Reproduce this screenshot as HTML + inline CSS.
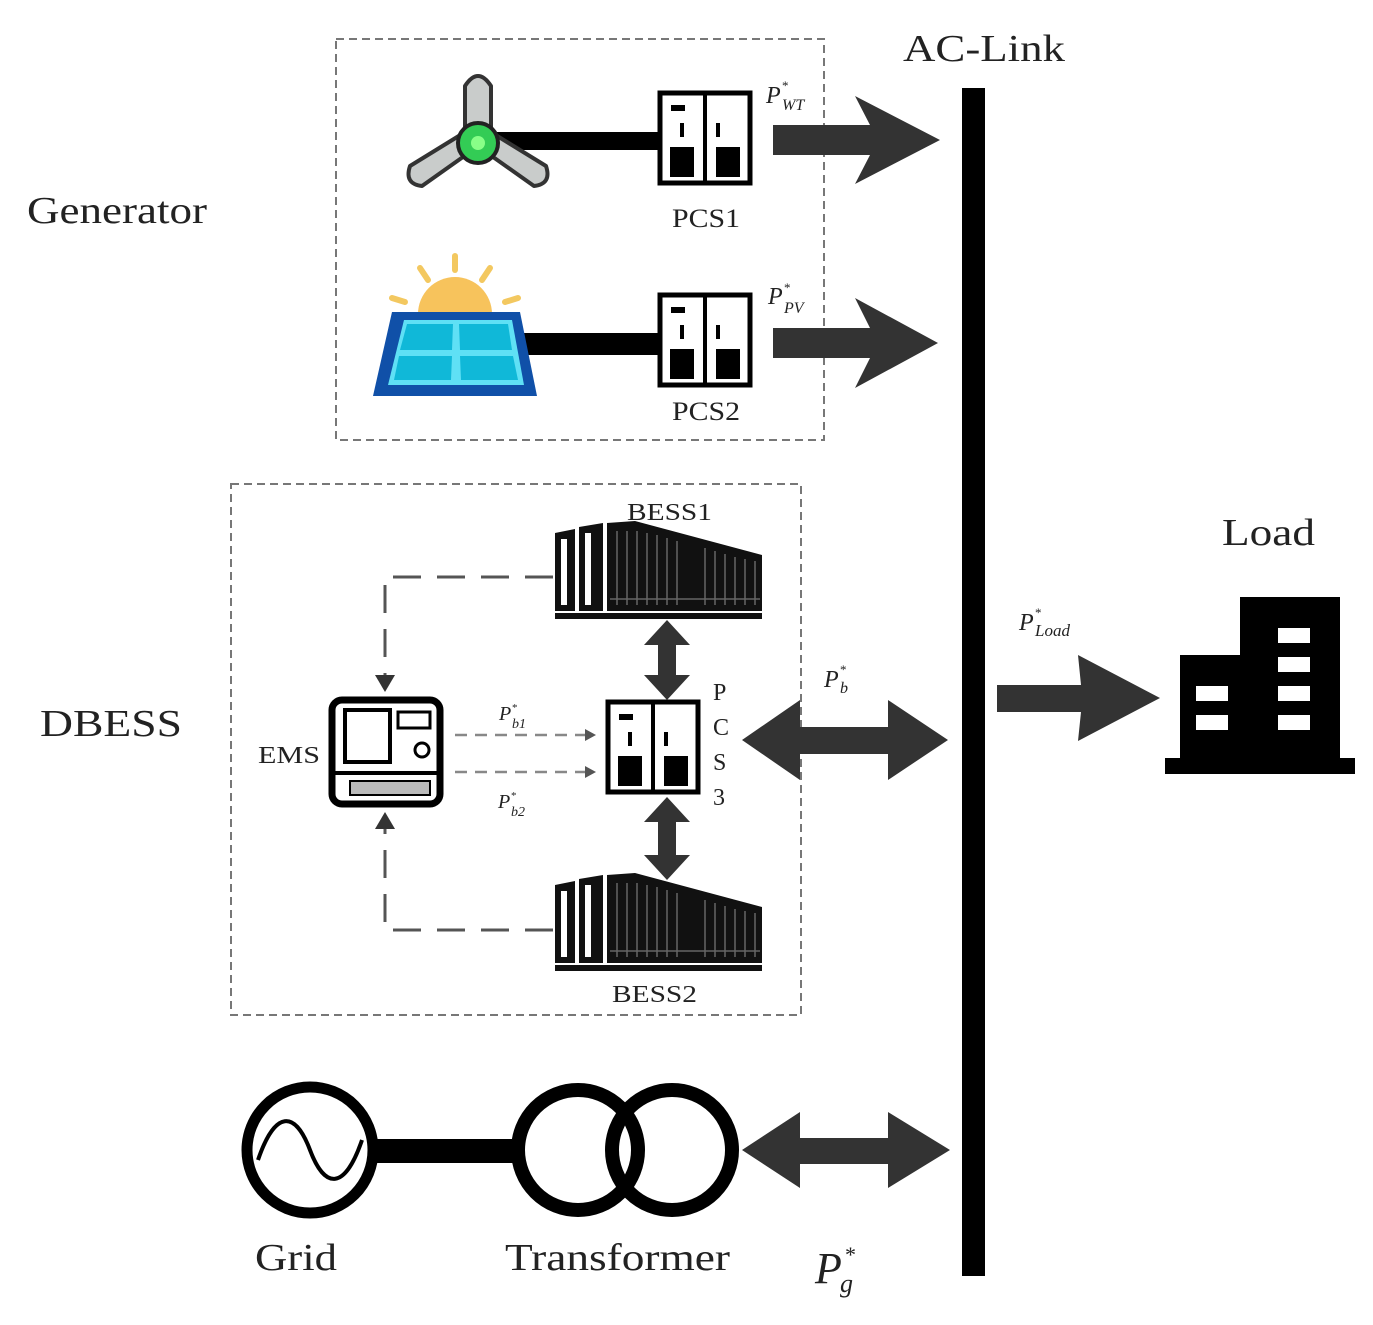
<!DOCTYPE html>
<html><head><meta charset="utf-8"><style>
html,body{margin:0;padding:0;background:#fff;}
svg{display:block;}
text{font-family:"Liberation Serif",serif;fill:#222;}
</style></head><body>
<svg width="1373" height="1325" viewBox="0 0 1373 1325" xmlns="http://www.w3.org/2000/svg">
<defs>
<g id="pcs">
  <rect x="2" y="2" width="90" height="90" fill="#fff" stroke="#000" stroke-width="5"/>
  <line x1="47" y1="2" x2="47" y2="92" stroke="#000" stroke-width="4"/>
  <rect x="13" y="14" width="14" height="6" fill="#000"/>
  <rect x="22" y="32" width="4" height="14" fill="#000"/>
  <rect x="58" y="32" width="4" height="14" fill="#000"/>
  <rect x="12" y="56" width="24" height="30" fill="#000"/>
  <rect x="58" y="56" width="24" height="30" fill="#000"/>
</g>
<g id="bess">
  <polygon points="0,12 20,8 20,90 0,90" fill="#111"/>
  <rect x="6" y="18" width="6" height="66" fill="#fff"/>
  <polygon points="24,6 48,2 48,90 24,90" fill="#111"/>
  <rect x="30" y="12" width="6" height="72" fill="#fff"/>
  <polygon points="52,2 80,0 207,34 207,90 52,90" fill="#111"/>
  <g stroke="#666" stroke-width="1.5">
    <line x1="62" y1="10" x2="62" y2="84"/><line x1="72" y1="10" x2="72" y2="84"/><line x1="82" y1="10" x2="82" y2="84"/>
    <line x1="92" y1="12" x2="92" y2="84"/><line x1="102" y1="14" x2="102" y2="84"/><line x1="112" y1="17" x2="112" y2="84"/>
    <line x1="122" y1="20" x2="122" y2="84"/><line x1="150" y1="27" x2="150" y2="84"/><line x1="160" y1="30" x2="160" y2="84"/>
    <line x1="170" y1="33" x2="170" y2="84"/><line x1="180" y1="36" x2="180" y2="84"/><line x1="190" y1="38" x2="190" y2="84"/><line x1="200" y1="40" x2="200" y2="84"/>
    <line x1="55" y1="78" x2="205" y2="78"/>
  </g>
  <rect x="0" y="92" width="207" height="6" fill="#111"/>
</g>
</defs>

<rect x="336" y="39" width="488" height="401" fill="none" stroke="#777" stroke-width="2" stroke-dasharray="8,5"/>
<rect x="231" y="484" width="570" height="531" fill="none" stroke="#777" stroke-width="2" stroke-dasharray="8,5"/>

<rect x="962" y="88" width="23" height="1188" fill="#000"/>
<text x="903" y="61" font-size="38" textLength="162" lengthAdjust="spacingAndGlyphs">AC-Link</text>

<text x="27" y="223" font-size="38" textLength="180" lengthAdjust="spacingAndGlyphs">Generator</text>
<text x="40" y="736" font-size="38" textLength="142" lengthAdjust="spacingAndGlyphs">DBESS</text>
<text x="1222" y="545" font-size="38" textLength="93" lengthAdjust="spacingAndGlyphs">Load</text>

<rect x="477" y="132" width="185" height="18" fill="#000"/>
<g stroke="#333" stroke-width="4" fill="#c9cccb" stroke-linejoin="round">
  <path d="M465,140 L465,86 Q478,66 491,86 L491,140 Z"/>
  <path d="M470,152 L422,186 Q404,184 410,166 L462,134 Z"/>
  <path d="M486,152 L534,186 Q552,184 546,166 L494,134 Z"/>
</g>
<circle cx="478" cy="143" r="20" fill="#3c5" stroke="#222" stroke-width="4"/>
<circle cx="478" cy="143" r="7" fill="#8f8"/>
<use href="#pcs" x="658" y="91"/>
<text x="672" y="227" font-size="26" textLength="68" lengthAdjust="spacingAndGlyphs">PCS1</text>
<text x="766" y="103" font-size="24" font-style="italic">P</text>
<text x="782" y="90" font-size="13">*</text>
<text x="782" y="110" font-size="16" font-style="italic">WT</text>
<polygon points="773,125 870,125 855,96 940,140 855,184 870,155 773,155" fill="#333"/>

<g stroke="#f3c860" stroke-width="6" stroke-linecap="round">
  <line x1="455" y1="256" x2="455" y2="270"/>
  <line x1="420" y1="268" x2="428" y2="280"/>
  <line x1="490" y1="268" x2="482" y2="280"/>
  <line x1="392" y1="298" x2="405" y2="302"/>
  <line x1="518" y1="298" x2="505" y2="302"/>
</g>
<path d="M418,314 A37,37 0 0 1 492,314 Z" fill="#f7c35c"/>
<rect x="520" y="333" width="140" height="22" fill="#000"/>
<polygon points="392,312 520,312 537,396 373,396" fill="#1050a8"/>
<polygon points="404,320 512,320 524,385 388,385" fill="#5fe0f5"/>
<g fill="#10b8d8">
  <polygon points="407,324 453,324 452,350 400,350"/>
  <polygon points="459,324 508,324 512,350 460,350"/>
  <polygon points="399,356 452,356 451,380 394,380"/>
  <polygon points="460,356 513,356 518,380 461,380"/>
</g>
<use href="#pcs" x="658" y="293"/>
<text x="672" y="420" font-size="26" textLength="68" lengthAdjust="spacingAndGlyphs">PCS2</text>
<text x="768" y="304" font-size="24" font-style="italic">P</text>
<text x="784" y="292" font-size="13">*</text>
<text x="784" y="313" font-size="16" font-style="italic">PV</text>
<polygon points="773,328 870,328 855,298 938,343 855,388 870,358 773,358" fill="#333"/>

<use href="#bess" x="555" y="521"/>
<use href="#bess" x="555" y="873"/>
<text x="627" y="520" font-size="24" textLength="85" lengthAdjust="spacingAndGlyphs">BESS1</text>
<text x="612" y="1002" font-size="24" textLength="85" lengthAdjust="spacingAndGlyphs">BESS2</text>
<use href="#pcs" x="606" y="700"/>
<text x="713" y="700" font-size="24">P</text>
<text x="713" y="735" font-size="24">C</text>
<text x="713" y="770" font-size="24">S</text>
<text x="713" y="805" font-size="24">3</text>
<polygon points="667,620 690,645 676,645 676,675 690,675 667,700 644,675 658,675 658,645 644,645" fill="#333"/>
<polygon points="667,797 690,822 676,822 676,855 690,855 667,880 644,855 658,855 658,822 644,822" fill="#333"/>
<rect x="332" y="700" width="108" height="104" rx="10" fill="#fff" stroke="#000" stroke-width="7"/>
<line x1="332" y1="773" x2="440" y2="773" stroke="#000" stroke-width="4"/>
<rect x="345" y="710" width="45" height="52" fill="#fff" stroke="#000" stroke-width="4"/>
<rect x="398" y="712" width="32" height="16" fill="#fff" stroke="#000" stroke-width="3"/>
<circle cx="422" cy="750" r="7" fill="#fff" stroke="#000" stroke-width="3"/>
<rect x="350" y="781" width="80" height="14" fill="#bbb" stroke="#000" stroke-width="2"/>
<text x="258" y="763" font-size="24" textLength="62" lengthAdjust="spacingAndGlyphs">EMS</text>
<g stroke="#555" stroke-width="3" stroke-dasharray="28,16" fill="none">
  <polyline points="553,577 385,577 385,680"/>
  <polyline points="553,930 385,930 385,825"/>
</g>
<polygon points="375,675 395,675 385,692" fill="#333"/>
<polygon points="375,829 395,829 385,812" fill="#333"/>
<g stroke="#888" stroke-width="2.5" stroke-dasharray="12,8">
  <line x1="455" y1="735" x2="585" y2="735"/>
  <line x1="455" y1="772" x2="585" y2="772"/>
</g>
<polygon points="585,729 596,735 585,741" fill="#555"/>
<polygon points="585,766 596,772 585,778" fill="#555"/>
<text x="499" y="720" font-size="20" font-style="italic">P</text><text x="512" y="711" font-size="11">*</text><text x="512" y="728" font-size="14" font-style="italic">b1</text>
<text x="498" y="808" font-size="20" font-style="italic">P</text><text x="511" y="799" font-size="11">*</text><text x="511" y="816" font-size="14" font-style="italic">b2</text>
<polygon points="742,740 800,700 800,727 888,727 888,700 948,740 888,780 888,754 800,754 800,780" fill="#333"/>
<text x="824" y="687" font-size="24" font-style="italic">P</text><text x="840" y="674" font-size="13">*</text><text x="840" y="693" font-size="16" font-style="italic">b</text>

<polygon points="997,685 1081,685 1078,655 1160,698 1078,741 1081,712 997,712" fill="#333"/>
<text x="1019" y="630" font-size="24" font-style="italic">P</text><text x="1035" y="617" font-size="13">*</text><text x="1035" y="636" font-size="17" font-style="italic">Load</text>
<rect x="1240" y="597" width="100" height="170" fill="#000"/>
<rect x="1180" y="655" width="65" height="112" fill="#000"/>
<rect x="1165" y="758" width="190" height="16" fill="#000"/>
<g fill="#fff">
  <rect x="1278" y="628" width="32" height="15"/><rect x="1278" y="657" width="32" height="15"/>
  <rect x="1278" y="686" width="32" height="15"/><rect x="1278" y="715" width="32" height="15"/>
  <rect x="1196" y="686" width="32" height="15"/><rect x="1196" y="715" width="32" height="15"/>
</g>

<rect x="372" y="1139" width="150" height="24" fill="#000"/>
<circle cx="310" cy="1150" r="63" fill="#fff" stroke="#000" stroke-width="11"/>
<path d="M258,1160 C275,1110 295,1110 310,1150 C325,1190 345,1190 362,1140" fill="none" stroke="#000" stroke-width="4"/>
<circle cx="578" cy="1150" r="60" fill="none" stroke="#000" stroke-width="14"/>
<circle cx="672" cy="1150" r="60" fill="none" stroke="#000" stroke-width="14"/>
<polygon points="742,1150 800,1112 800,1138 888,1138 888,1112 950,1150 888,1188 888,1164 800,1164 800,1188" fill="#333"/>
<text x="255" y="1270" font-size="38" textLength="82" lengthAdjust="spacingAndGlyphs">Grid</text>
<text x="505" y="1270" font-size="38" textLength="225" lengthAdjust="spacingAndGlyphs">Transformer</text>
<text x="815" y="1283" font-size="44" font-style="italic">P</text>
<text x="845" y="1262" font-size="22">*</text>
<text x="840" y="1292" font-size="26" font-style="italic">g</text>
</svg>
</body></html>
